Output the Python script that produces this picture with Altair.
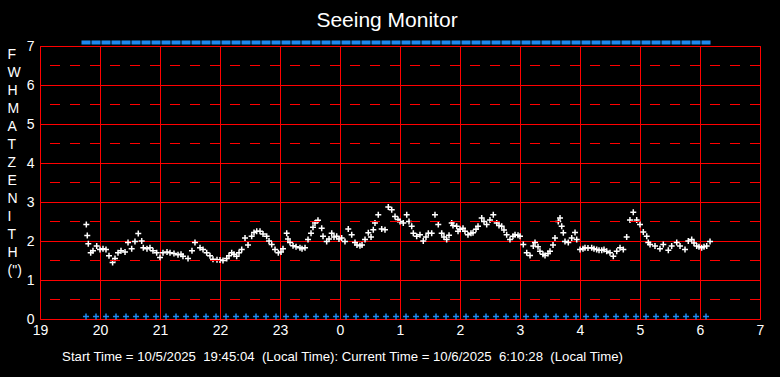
import altair as alt
import pandas as pd

# ---- data (hour of night, FWHM at zenith in arcsec) ----
hours = [19.772, 19.788, 19.805, 19.845, 19.883, 19.945, 20.0, 20.05, 20.10, 20.15,
         20.21, 20.25, 20.30, 20.35, 20.417, 20.467, 20.528, 20.583, 20.638, 20.695,
         20.722, 20.783, 20.833, 20.883, 20.945, 21.0, 21.05, 21.117, 21.167, 21.233,
         21.30, 21.35, 21.383, 21.467, 21.533, 21.583, 21.667, 21.717, 21.778, 21.833,
         21.883, 21.95, 22.0, 22.05, 22.112, 22.15, 22.195, 22.233, 22.278, 22.317,
         22.362, 22.417, 22.467, 22.528, 22.567, 22.612, 22.667, 22.717, 22.778, 22.817,
         22.862, 22.917, 22.972, 23.017, 23.05, 23.112, 23.133, 23.167, 23.217, 23.267,
         23.333, 23.367, 23.417, 23.467, 23.517, 23.55, 23.583, 23.633, 23.695, 23.717,
         23.778, 23.817, 23.862, 23.90, 23.945, 23.983, 24.028, 24.083, 24.138, 24.195,
         24.25, 24.283, 24.333, 24.367, 24.417, 24.472, 24.517, 24.555, 24.583, 24.638,
         24.695, 24.75, 24.805, 24.862, 24.917, 24.967, 25.0, 25.055, 25.112, 25.15,
         25.195, 25.222, 25.278, 25.333, 25.388, 25.433, 25.472, 25.528, 25.583, 25.638,
         25.695, 25.733, 25.778, 25.817, 25.862, 25.883, 25.945, 25.967, 26.0, 26.05,
         26.083, 26.133, 26.183, 26.217, 26.267, 26.30, 26.362, 26.40, 26.445, 26.50,
         26.555, 26.612, 26.65, 26.695, 26.733, 26.778, 26.833, 26.883, 26.917, 26.967,
         27.0, 27.055, 27.112, 27.167, 27.222, 27.25, 27.30, 27.333, 27.383, 27.417,
         27.467, 27.50, 27.55, 27.583, 27.638, 27.667, 27.695, 27.722, 27.75, 27.805,
         27.862, 27.917, 27.945, 28.0, 28.05, 28.083, 28.133, 28.195, 28.233, 28.278,
         28.317, 28.362, 28.40, 28.445, 28.50, 28.555, 28.612, 28.667, 28.722, 28.778,
         28.833, 28.888, 28.945, 29.0, 29.055, 29.112, 29.138, 29.167, 29.25, 29.333,
         29.388, 29.472, 29.528, 29.612, 29.667, 29.75, 29.805, 29.862, 29.90, 29.945,
         29.983, 30.028, 30.067, 30.112, 30.167]
fwhm = [2.42, 2.14, 1.93, 1.70, 1.75, 1.87, 1.78, 1.80, 1.78, 1.62,
        1.45, 1.55, 1.70, 1.75, 1.72, 1.96, 1.80, 1.99, 2.19, 2.00,
        1.83, 1.80, 1.83, 1.75, 1.70, 1.58, 1.70, 1.72, 1.70, 1.68,
        1.65, 1.66, 1.61, 1.55, 1.75, 1.96, 1.83, 1.78, 1.70, 1.62,
        1.53, 1.52, 1.51, 1.50, 1.55, 1.62, 1.70, 1.66, 1.61, 1.70,
        1.78, 2.08, 1.90, 2.12, 2.22, 2.25, 2.25, 2.18, 2.12, 2.00,
        1.91, 1.78, 1.70, 1.72, 1.80, 2.20, 2.05, 1.96, 1.88, 1.85,
        1.83, 1.80, 1.83, 2.04, 2.20, 2.35, 2.46, 2.53, 2.33, 2.12,
        1.99, 2.05, 2.20, 2.10, 2.12, 2.05, 2.08, 1.99, 2.31, 2.16,
        1.96, 1.90, 1.88, 1.90, 2.04, 2.21, 2.10, 2.29, 2.46, 2.67,
        2.31, 2.29, 2.87, 2.80, 2.63, 2.55, 2.50, 2.46, 2.67, 2.50,
        2.38, 2.20, 2.12, 2.16, 2.00, 2.10, 2.20, 2.20, 2.67, 2.42,
        2.20, 2.10, 2.04, 2.15, 2.46, 2.40, 2.38, 2.25, 2.30, 2.33,
        2.25, 2.16, 2.20, 2.21, 2.30, 2.38, 2.59, 2.50, 2.42, 2.54,
        2.67, 2.46, 2.40, 2.38, 2.28, 2.16, 2.04, 2.12, 2.16, 2.15,
        2.12, 1.91, 1.70, 1.63, 1.87, 1.96, 1.85, 1.74, 1.66, 1.63,
        1.68, 1.74, 1.90, 2.08, 2.50, 2.59, 2.38, 2.21, 1.99, 1.96,
        2.08, 2.22, 2.04, 1.78, 1.80, 1.83, 1.82, 1.83, 1.80, 1.78,
        1.76, 1.76, 1.78, 1.74, 1.70, 1.61, 1.74, 1.83, 1.78, 2.10,
        2.54, 2.74, 2.54, 2.42, 2.23, 2.12, 1.96, 1.91, 1.87, 1.80,
        1.91, 1.76, 1.87, 1.96, 1.87, 1.78, 2.00, 2.04, 1.95, 1.87,
        1.85, 1.83, 1.85, 1.87, 1.99]

# status markers: minutes after 19:00
status_minutes = [46, 56, 66, 76, 86, 96, 106, 116, 126, 136, 146, 156, 166, 176, 186,
                  196, 206, 216, 226, 236, 246, 256, 266, 276, 286, 296, 306, 316, 326,
                  336, 346, 356, 366, 376, 386, 396, 406, 416, 426, 436, 446, 456, 466,
                  476, 486, 496, 506, 516, 526, 536, 546, 556, 566, 576, 586, 596, 606,
                  616, 626, 636, 646, 656, 666]
half_levels = [0.5, 1.5, 2.5, 3.5, 4.5, 5.5, 6.5]
x_ticks = [19, 20, 21, 22, 23, 24, 25, 26, 27, 28, 29, 30, 31]
y_ticks = [0, 1, 2, 3, 4, 5, 6, 7]

title_text = "Seeing Monitor"
NB = "\u00a0"
y_title = ["F", "W", "H", "M", NB, "A", "T", NB, "Z", "E", "N", "I", "T", "H", "(\")"]
footer = ("Start Time" + NB + "=" + NB + "10/5/2025" + NB + NB + "19:45:04" + NB + NB
          + "(Local Time):" + NB + "Current Time" + NB + "=" + NB + "10/6/2025" + NB + NB
          + "6:10:28" + NB + NB + "(Local Time)")

df = pd.DataFrame({"hour": hours, "fwhm": fwhm})
st = pd.DataFrame({"hour": [19 + m / 60 for m in status_minutes]})
st["top"] = 7
st["bot"] = 0
hl = pd.DataFrame({"lvl": half_levels})

FONT = "Liberation Sans"
RED = "#FF0000"
BLUE = "#1E88F0"

xscale = alt.Scale(domain=[19, 31], nice=False, zero=False)
yscale = alt.Scale(domain=[0, 7], nice=False, zero=False)

xaxis = alt.Axis(values=x_ticks, tickCount=13, grid=True, gridColor=RED, gridWidth=1,
                 gridOpacity=1, ticks=False, domain=False, labelColor="white",
                 labelFont=FONT, labelFontSize=14, labelPadding=4, labelFlush=False,
                 labelOverlap=False,
                 labelExpr="datum.value >= 24 ? datum.value - 24 : datum.value",
                 title=footer, titleColor="white", titleFont=FONT, titleFontSize=13.2,
                 titleFontWeight="normal", titleX=302, titleY=41, titleAlign="center",
                 titleBaseline="alphabetic")
yaxis = alt.Axis(values=y_ticks, tickCount=8, grid=True, gridColor=RED, gridWidth=1,
                 gridOpacity=1, ticks=False, domain=False, labelColor="white",
                 labelFont=FONT, labelFontSize=14, labelPadding=6, labelFlush=False,
                 labelOverlap=False,
                 title=y_title, titleColor="white", titleFont=FONT, titleFontSize=14,
                 titleFontWeight="normal", titleAngle=0, titleX=-33, titleY=1,
                 titleAlign="left", titleBaseline="top", titleLineHeight=18)

points = alt.Chart(df).mark_point(
    shape="M-1,0H1M0,-1V1", filled=False, stroke="white", strokeWidth=1.5, size=36, opacity=1
).encode(
    x=alt.X("hour:Q", scale=xscale, axis=xaxis),
    y=alt.Y("fwhm:Q", scale=yscale, axis=yaxis),
)

dashes = alt.Chart(hl).mark_rule(color=RED, strokeWidth=1, strokeDash=[10, 10]).encode(
    y=alt.Y("lvl:Q", scale=yscale, axis=yaxis)
)

top = alt.Chart(st).mark_point(
    shape="M-1,-0.45H1V0.45H-1Z", filled=True, fill=BLUE, size=81, opacity=1, clip=False,
    yOffset=-3.5
).encode(
    x=alt.X("hour:Q", scale=xscale, axis=xaxis),
    y=alt.Y("top:Q", scale=yscale, axis=yaxis),
)

bot = alt.Chart(st).mark_point(
    shape="M-1,0H1M0,-1V1", filled=False, stroke=BLUE, strokeWidth=1.5, size=36, opacity=1,
    yOffset=-2.5
).encode(
    x=alt.X("hour:Q", scale=xscale, axis=xaxis),
    y=alt.Y("bot:Q", scale=yscale, axis=yaxis),
)

chart = alt.layer(points, dashes, top, bot).properties(
    width=720, height=273,
    background="black",
    padding={"left": 40, "top": 46, "right": 20, "bottom": 58},
    autosize=alt.AutoSizeParams(type="none"),
    title=alt.TitleParams(title_text, color="white", font=FONT, fontSize=21,
                          fontWeight="normal", anchor="middle", offset=-9,
                          baseline="alphabetic", dx=-13),
).configure_view(stroke=RED, strokeWidth=1)

chart.save("out.html", embed_options={"renderer": "svg", "actions": False})
